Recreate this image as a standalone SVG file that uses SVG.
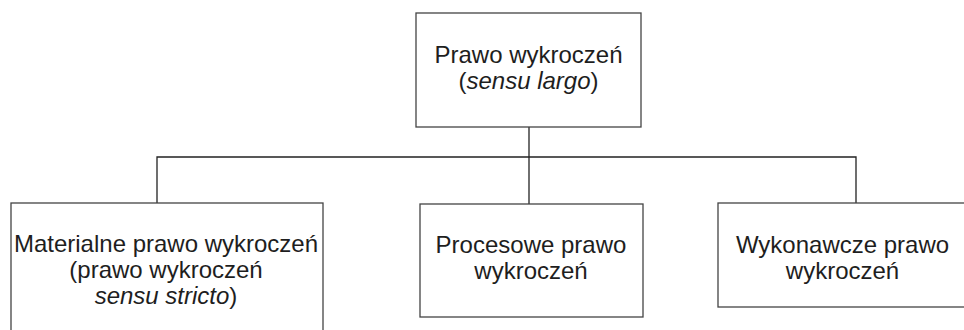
<svg xmlns="http://www.w3.org/2000/svg" width="964" height="330" viewBox="0 0 964 330">
<style>
.box{fill:#fff;stroke:#444;stroke-width:1.3}
.conn{fill:none;stroke:#222;stroke-width:1.3}
text{font-family:"Liberation Sans",Arial,sans-serif;font-size:24px;fill:#1e1e1e;text-anchor:middle}
.i{font-style:italic}
</style>
<rect width="964" height="330" fill="#fff"/>
<g id="connectors">
<line class="conn" x1="529" y1="127" x2="529" y2="204"/>
<polyline class="conn" points="157,203 157,157 856,157 856,203"/>
</g>
<g id="top">
<rect class="box" x="416" y="13" width="225" height="114"/>
<text x="528.5" y="63">Prawo wykroczeń</text>
<text x="528.5" y="89">(<tspan class="i">sensu largo</tspan>)</text>
</g>
<g id="material">
<rect class="box" x="11" y="203" width="312" height="140"/>
<text x="166" y="252">Materialne prawo wykroczeń</text>
<text x="166" y="278">(prawo wykroczeń</text>
<text x="166" y="304"><tspan class="i">sensu stricto</tspan>)</text>
</g>
<g id="procesowe">
<rect class="box" x="420" y="204" width="223" height="113"/>
<text x="531" y="253">Procesowe prawo</text>
<text x="531" y="279">wykroczeń</text>
</g>
<g id="wykonawcze">
<rect class="box" x="718" y="203" width="250" height="104"/>
<text x="842.5" y="253">Wykonawcze prawo</text>
<text x="842.5" y="279">wykroczeń</text>
</g>
</svg>
